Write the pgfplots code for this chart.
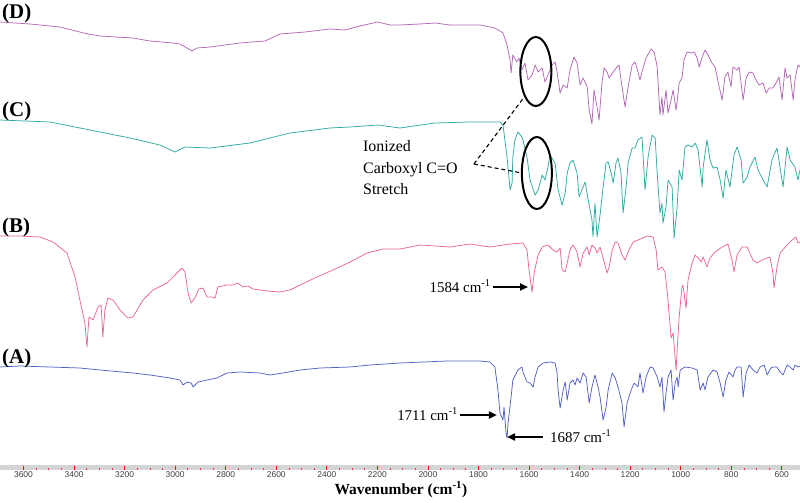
\documentclass[border=0pt]{standalone}
\usepackage{fontspec}
\setmainfont{Liberation Serif}
\setsansfont{Liberation Sans}
\usepackage{pgfplots}
\pgfplotsset{compat=1.18}
\usetikzlibrary{arrows.meta}
\definecolor{cD}{RGB}{178,103,180}
\definecolor{cC}{RGB}{45,172,158}
\definecolor{cB}{RGB}{232,102,155}
\definecolor{cA}{RGB}{84,96,196}
\definecolor{barg}{RGB}{212,212,212}
\begin{document}
\begin{tikzpicture}[x=1bp,y=1bp]
\begin{axis}[at={(0bp,0bp)},anchor=south west,scale only axis,width=800bp,height=503bp,
 xmin=528,xmax=3693,x dir=reverse,ymin=0,ymax=503,y dir=reverse,axis lines=none,clip=false,
 every axis plot/.append style={line width=0.75bp, line join=round}]
% (D)
\addplot[cD] coordinates {(3693,22) (3574,24) (3456,27) (3345,34) (3297,36) (3167,38) (3100,41) (3009,43) (2981,44) (2933,51) (2914,48) (2862,47) (2744,43) (2645,41) (2585,34) (2486,32) (2388,29) (2328,30) (2269,26) (2198,22) (2150,25) (2111,25) (2031,24) (1972,23) (1913,25) (1794,25) (1735,28) (1703,33) (1687,45) (1675,60) (1671,73) (1664,55) (1648,62) (1640,58) (1628,70) (1616,63) (1604,80) (1588,75) (1576,65) (1564,72) (1548,68) (1537,82) (1525,75) (1509,65) (1497,62) (1489,72) (1477,93) (1465,85) (1449,88) (1438,70) (1422,57) (1410,63) (1398,85) (1386,78) (1370,87) (1362,110) (1351,124) (1343,90) (1331,107) (1323,120) (1311,82) (1303,68) (1291,72) (1283,78) (1267,72) (1252,67) (1244,65) (1232,87) (1220,107) (1208,87) (1192,65) (1181,62) (1173,68) (1161,80) (1149,68) (1137,58) (1117,49) (1105,52) (1093,67) (1082,115) (1074,97) (1070,115) (1058,90) (1050,113) (1038,100) (1030,90) (1018,110) (1006,83) (995,78) (987,60) (975,52) (955,53) (947,52) (935,58) (927,67) (915,57) (904,50) (892,55) (876,63) (864,67) (852,82) (836,100) (825,77) (813,72) (801,87) (793,67) (777,70) (769,67) (753,100) (741,78) (729,72) (714,73) (702,80) (690,85) (674,83) (662,93) (650,88) (635,88) (623,83) (611,77) (599,100) (587,68) (579,78) (567,75) (555,100) (548,80) (536,65) (528,67)};
% (C)
\addplot[cC] coordinates {(3693,120) (3495,122) (3337,130) (3179,138) (3060,145) (3001,152) (2961,147) (2862,148) (2704,143) (2546,133) (2388,128) (2308,127) (2198,125) (2111,128) (1972,123) (1834,122) (1755,122) (1715,122) (1703,125) (1687,157) (1675,190) (1667,183) (1664,157) (1656,140) (1644,132) (1628,137) (1624,140) (1608,157) (1596,180) (1576,195) (1564,190) (1548,175) (1537,180) (1525,167) (1517,155) (1497,163) (1485,190) (1469,205) (1457,193) (1449,173) (1438,163) (1426,160) (1410,173) (1402,197) (1386,187) (1378,182) (1366,200) (1351,220) (1347,237) (1339,203) (1331,237) (1319,215) (1307,187) (1295,163) (1287,162) (1275,173) (1267,183) (1256,163) (1248,158) (1236,173) (1228,213) (1216,187) (1208,163) (1192,148) (1181,148) (1169,140) (1153,137) (1141,190) (1129,157) (1113,135) (1101,138) (1093,173) (1082,213) (1074,203) (1070,223) (1058,207) (1050,180) (1034,187) (1026,238) (1014,207) (1006,170) (995,180) (983,147) (971,145) (955,147) (943,143) (931,150) (915,187) (911,167) (896,140) (884,160) (872,168) (856,167) (844,180) (832,198) (821,170) (805,187) (789,155) (777,147) (761,160) (753,183) (737,177) (726,167) (706,157) (694,170) (674,180) (658,187) (639,160) (619,148) (607,167) (595,187) (579,147) (567,160) (548,167) (536,180) (528,170)};
% (B)
\addplot[cB] coordinates {(3693,236) (3614,236) (3535,237) (3483,242) (3428,253) (3396,277) (3377,300) (3357,323) (3349,347) (3341,317) (3325,320) (3305,307) (3293,305) (3286,337) (3278,310) (3266,298) (3246,300) (3218,310) (3187,318) (3167,317) (3127,300) (3088,290) (3032,283) (2973,268) (2961,272) (2949,293) (2937,303) (2922,298) (2906,289) (2890,288) (2874,297) (2854,297) (2842,298) (2831,287) (2795,285) (2771,285) (2752,283) (2732,287) (2712,286) (2692,289) (2637,291) (2585,292) (2546,290) (2506,285) (2439,277) (2376,270) (2308,262) (2241,253) (2178,249) (2111,249) (2031,245) (1913,247) (1834,244) (1755,247) (1675,244) (1624,243) (1608,250) (1600,270) (1588,292) (1580,273) (1564,255) (1548,247) (1525,245) (1505,250) (1489,252) (1477,248) (1469,270) (1457,272) (1449,263) (1438,250) (1426,245) (1410,252) (1398,267) (1386,253) (1370,247) (1362,255) (1351,245) (1339,248) (1331,253) (1319,247) (1307,258) (1291,273) (1283,267) (1271,250) (1259,242) (1248,243) (1232,255) (1220,260) (1208,252) (1188,242) (1169,240) (1149,238) (1133,236) (1109,237) (1097,250) (1090,270) (1074,267) (1062,272) (1054,290) (1046,313) (1038,338) (1030,333) (1026,345) (1018,370) (1014,350) (1006,317) (995,287) (991,285) (979,308) (971,280) (955,263) (943,255) (931,258) (919,262) (911,257) (896,267) (884,258) (864,252) (836,247) (813,244) (797,260) (789,272) (777,255) (757,247) (737,247) (714,260) (698,263) (678,260) (647,257) (635,273) (631,288) (619,267) (607,253) (579,245) (559,240) (544,237) (536,243) (528,242)};
% (A)
\addplot[cA] coordinates {(3693,367) (3614,366) (3495,367) (3377,368) (3297,370) (3167,373) (3100,375) (3020,378) (2981,380) (2969,385) (2953,382) (2937,383) (2929,387) (2910,382) (2874,380) (2835,378) (2795,373) (2744,372) (2664,373) (2625,375) (2573,373) (2506,370) (2427,368) (2308,367) (2229,365) (2111,363) (1925,361) (1794,361) (1755,362) (1735,367) (1723,390) (1715,413) (1703,420) (1699,407) (1691,433) (1687,438) (1683,423) (1671,397) (1664,380) (1644,370) (1628,367) (1624,372) (1608,382) (1596,383) (1584,387) (1576,377) (1564,367) (1544,363) (1517,362) (1497,363) (1489,373) (1485,390) (1477,408) (1465,390) (1457,382) (1449,400) (1438,383) (1426,380) (1418,385) (1410,378) (1398,383) (1386,373) (1374,377) (1362,403) (1351,387) (1339,375) (1327,387) (1319,397) (1307,420) (1295,407) (1287,390) (1271,373) (1259,378) (1248,387) (1232,403) (1224,427) (1212,403) (1196,390) (1184,383) (1169,387) (1161,373) (1149,393) (1137,377) (1121,367) (1109,368) (1093,377) (1082,387) (1074,377) (1066,412) (1058,393) (1050,377) (1038,370) (1030,400) (1022,383) (1014,377) (1010,387) (1002,370) (983,367) (955,368) (935,370) (923,390) (911,383) (904,390) (892,377) (872,370) (856,372) (844,383) (832,397) (821,380) (809,372) (793,377) (785,370) (777,367) (761,367) (753,397) (741,373) (729,365) (714,370) (698,373) (686,367) (670,365) (658,375) (643,368) (635,367) (619,367) (607,372) (595,375) (579,365) (567,367) (555,370) (548,365) (536,367) (528,366)};
% labels
\begin{scope}[every node/.style={inner sep=0pt}]
\node[anchor=base west,font=\fontsize{21}{24}\selectfont\bfseries] at (axis cs:3685,19) {(D)};
\node[anchor=base west,font=\fontsize{21}{24}\selectfont\bfseries] at (axis cs:3685,117) {(C)};
\node[anchor=base west,font=\fontsize{21}{24}\selectfont\bfseries] at (axis cs:3685,232) {(B)};
\node[anchor=base west,font=\fontsize{21}{24}\selectfont\bfseries] at (axis cs:3685,363) {(A)};
\node[anchor=base west,font=\fontsize{16}{19}\selectfont] at (axis cs:2257,151) {Ionized};
\node[anchor=base west,font=\fontsize{16}{19}\selectfont] at (axis cs:2257,173) {Carboxyl C=O};
\node[anchor=base west,font=\fontsize{16}{19}\selectfont] at (axis cs:2257,194) {Stretch};
\node[anchor=base east,font=\fontsize{15}{18}\selectfont] at (axis cs:1751,292) {1584 cm\textsuperscript{-1}};
\node[anchor=base east,font=\fontsize{15}{18}\selectfont] at (axis cs:1881,420) {1711 cm\textsuperscript{-1}};
\node[anchor=base west,font=\fontsize{15}{18}\selectfont] at (axis cs:1517,442) {1687 cm\textsuperscript{-1}};
\node[anchor=base,font=\fontsize{15.5}{18}\selectfont\bfseries] at (axis cs:2107,494) {Wavenumber (cm\textsuperscript{-1})};
\end{scope}
\draw[line width=1.8bp,-{Triangle[length=8bp,width=7bp]}] (axis cs:1743,287) -- (axis cs:1604,287);
\draw[line width=1.8bp,-{Triangle[length=8bp,width=7bp]}] (axis cs:1873,415) -- (axis cs:1727,415);
\draw[line width=1.8bp,-{Triangle[length=8bp,width=7bp]}] (axis cs:1545,437) -- (axis cs:1687,437);
\draw[line width=2bp] (axis cs:1573,71.5) ellipse [x radius=15.5bp, y radius=34.5bp];
\draw[line width=2bp] (axis cs:1569,173) ellipse [x radius=15bp, y radius=36bp];
\draw[line width=1.1bp,dash pattern=on 4bp off 3bp] (axis cs:1818,164) -- (axis cs:1616,96);
\draw[line width=1.1bp,dash pattern=on 4bp off 3bp] (axis cs:1818,164) -- (axis cs:1628,173);
\end{axis}
\begin{axis}[at={(0bp,33bp)},anchor=south west,scale only axis,width=800bp,height=5bp,
 xmin=528,xmax=3693,x dir=reverse,ymin=0,ymax=1,
 axis line style={draw=none}, axis background/.style={fill=barg},
 ytick=\empty, xtick={600,800,...,3600}, minor x tick num=3,
 xtick pos=bottom, tick align=inside, major tick length=4bp, minor tick length=2bp,
 major tick style={red, line width=0.8bp}, minor tick style={red!80, line width=0.7bp},
 xticklabel style={font=\fontsize{8.5}{10}\selectfont\sffamily, text=black!75, inner sep=1bp,
   /pgf/number format/1000 sep={}, /pgf/number format/assume math mode=true}]
\addplot[draw=none] coordinates {(600,0.5)};
\end{axis}
\pgfresetboundingbox
\useasboundingbox (0bp,0bp) rectangle (800bp,503bp);
\end{tikzpicture}
\end{document}
